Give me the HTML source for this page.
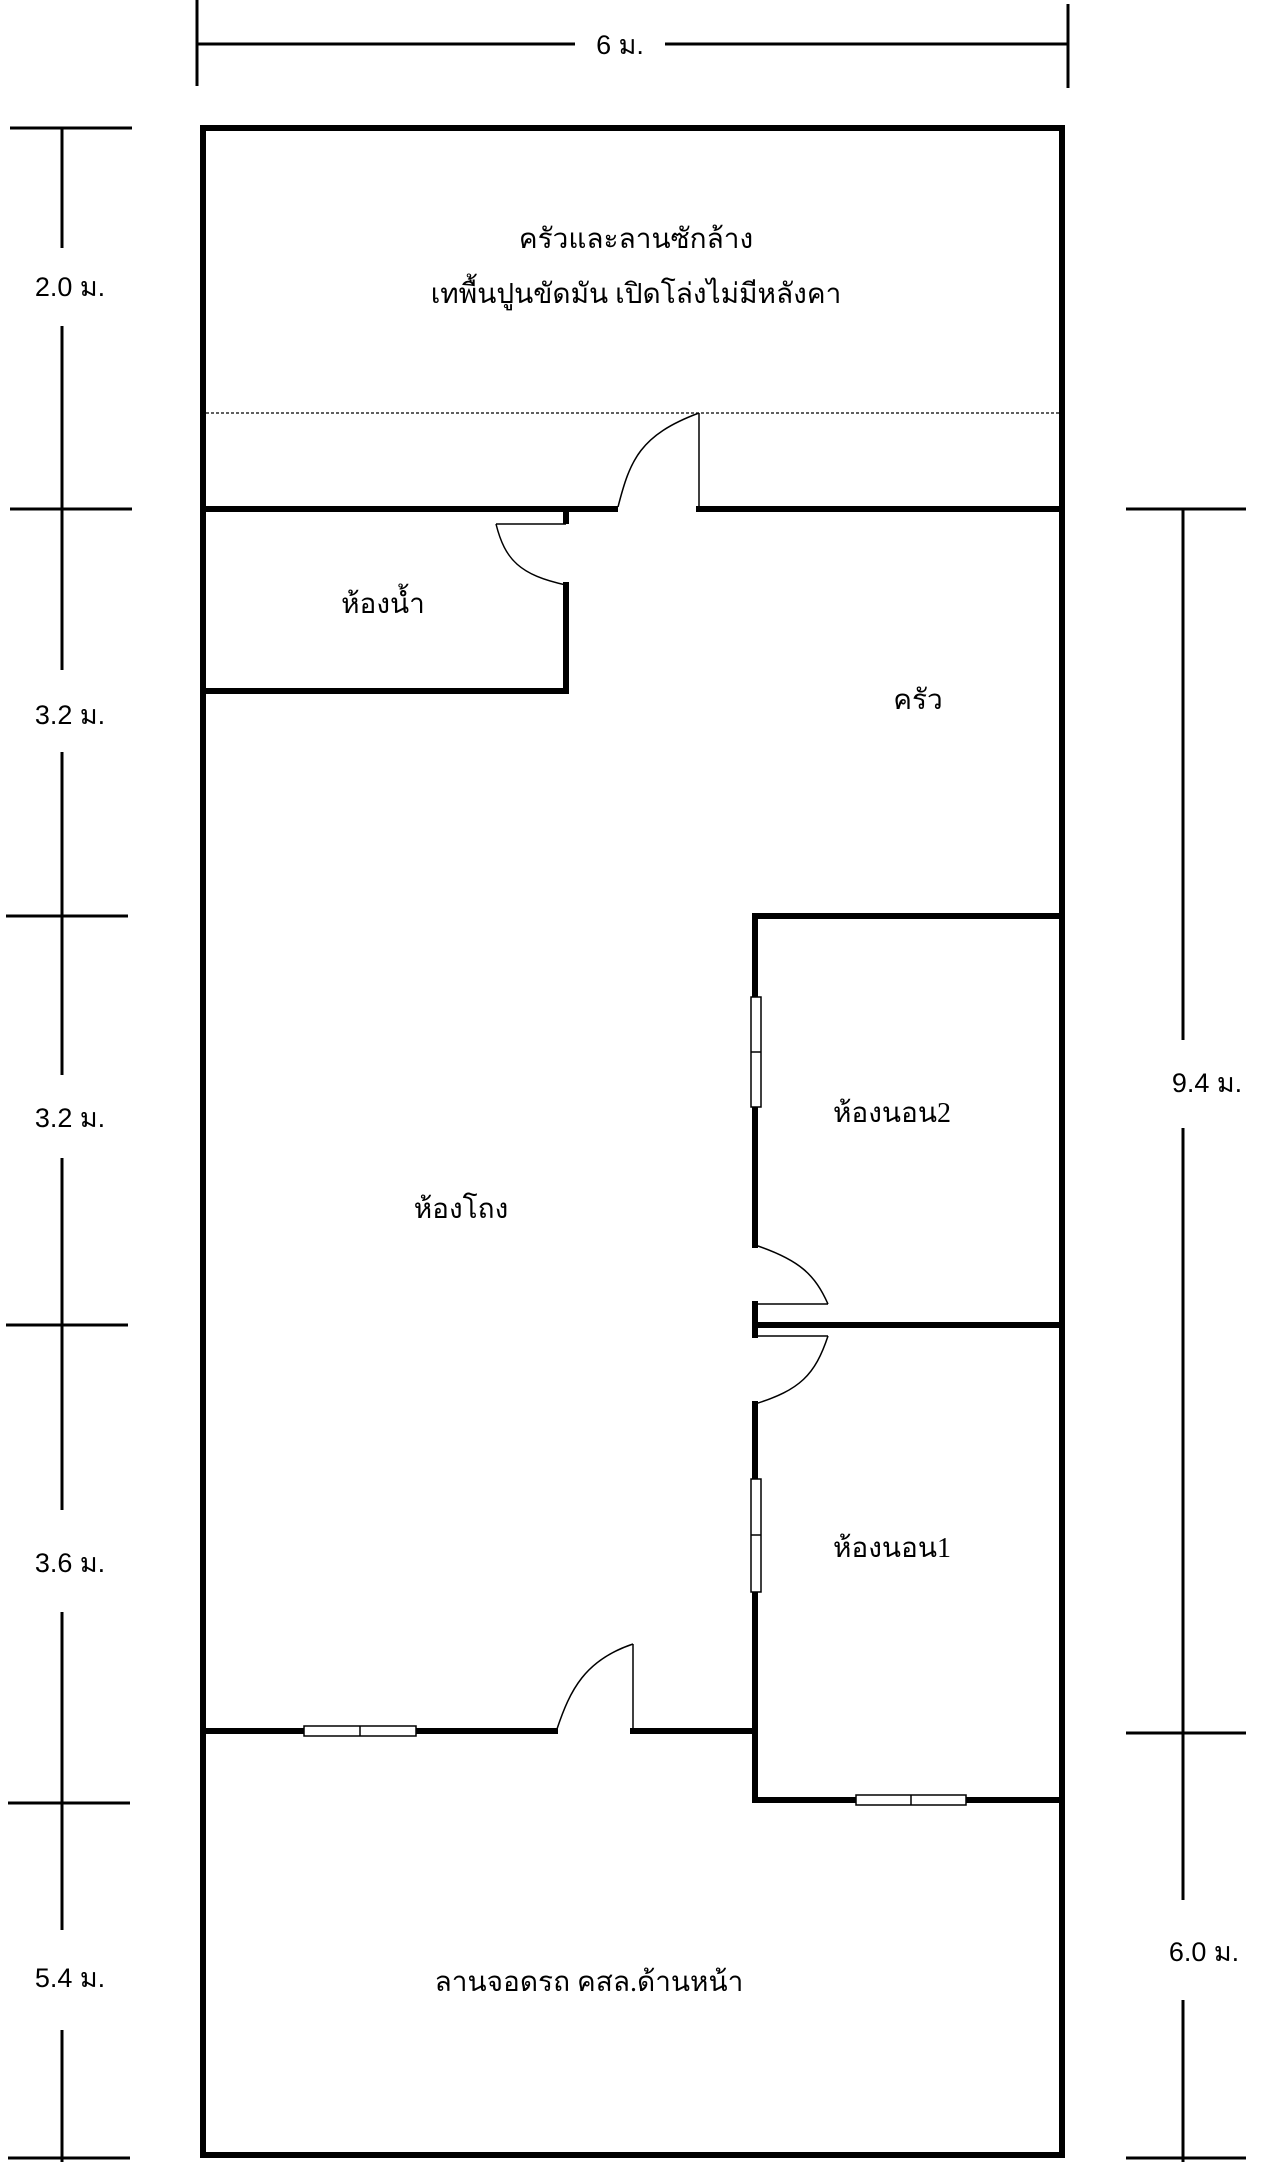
<!DOCTYPE html>
<html><head><meta charset="utf-8"><style>
html,body{margin:0;padding:0;background:#fff;}
svg{display:block}
.s{font-family:"Liberation Sans",sans-serif;font-size:27px;fill:#000}
.t{font-family:"Liberation Serif",serif;font-size:28px;fill:#000}
</style></head><body>
<svg width="1280" height="2162" viewBox="0 0 1280 2162" xmlns="http://www.w3.org/2000/svg">
<g stroke="#000" stroke-width="3" fill="none">
<!-- top dimension -->
<line x1="197" y1="0" x2="197" y2="86"/>
<line x1="1068" y1="4" x2="1068" y2="88"/>
<line x1="197" y1="44" x2="575" y2="44"/>
<line x1="665" y1="44" x2="1068" y2="44"/>
<!-- left dimension -->
<line x1="62" y1="128" x2="62" y2="248"/>
<line x1="62" y1="326" x2="62" y2="670"/>
<line x1="62" y1="752" x2="62" y2="1075"/>
<line x1="62" y1="1158" x2="62" y2="1510"/>
<line x1="62" y1="1612" x2="62" y2="1930"/>
<line x1="62" y1="2030" x2="62" y2="2162"/>
<line x1="10" y1="128" x2="132" y2="128"/>
<line x1="10" y1="509" x2="132" y2="509"/>
<line x1="6" y1="916" x2="128" y2="916"/>
<line x1="6" y1="1325" x2="128" y2="1325"/>
<line x1="8" y1="1803" x2="130" y2="1803"/>
<line x1="8" y1="2158" x2="130" y2="2158"/>
<!-- right dimension -->
<line x1="1183" y1="509" x2="1183" y2="1040"/>
<line x1="1183" y1="1128" x2="1183" y2="1900"/>
<line x1="1183" y1="2000" x2="1183" y2="2162"/>
<line x1="1126" y1="509" x2="1246" y2="509"/>
<line x1="1126" y1="1733" x2="1246" y2="1733"/>
<line x1="1126" y1="2158" x2="1246" y2="2158"/>
</g>
<g stroke="#000" stroke-width="6" fill="none" stroke-linecap="square">
<rect x="203" y="128" width="859" height="2027"/>
<line x1="203" y1="509" x2="615" y2="509"/>
<line x1="699" y1="509" x2="1062" y2="509"/>
<line x1="566" y1="509" x2="566" y2="521"/>
<line x1="566" y1="585" x2="566" y2="691"/>
<line x1="203" y1="691" x2="566" y2="691"/>
<line x1="755" y1="916" x2="1062" y2="916"/>
<line x1="755" y1="916" x2="755" y2="1245"/>
<line x1="755" y1="1304" x2="755" y2="1335"/>
<line x1="755" y1="1325" x2="1062" y2="1325"/>
<line x1="755" y1="1404" x2="755" y2="1800"/>
<line x1="755" y1="1800" x2="1062" y2="1800"/>
<line x1="203" y1="1731" x2="555" y2="1731"/>
<line x1="633" y1="1731" x2="755" y2="1731"/>
</g>
<line x1="206" y1="413" x2="1060" y2="413" stroke="#000" stroke-width="1.2" stroke-dasharray="3,2"/>
<g stroke="#000" stroke-width="1.5" fill="none">
<line x1="699" y1="413" x2="699" y2="507"/>
<path d="M618 507 C630 460 640 435 699 413"/>
<line x1="496" y1="524" x2="566" y2="524"/>
<path d="M496 524 C505 560 520 575 566 585"/>
<line x1="755" y1="1304" x2="828" y2="1304"/>
<path d="M755 1245 C800 1260 815 1275 828 1304"/>
<line x1="758" y1="1336" x2="828" y2="1336"/>
<path d="M755 1404 C800 1390 815 1375 828 1336"/>
<line x1="633" y1="1644" x2="633" y2="1729"/>
<path d="M557 1729 C570 1690 585 1660 633 1644"/>
</g>
<g stroke="#000" stroke-width="1.5" fill="#fff">
<rect x="751" y="997" width="10" height="110"/>
<line x1="751" y1="1052" x2="761" y2="1052"/>
<rect x="751" y="1479" width="10" height="113"/>
<line x1="751" y1="1535" x2="761" y2="1535"/>
<rect x="304" y="1726" width="112" height="10"/>
<line x1="360" y1="1726" x2="360" y2="1736"/>
<rect x="856" y="1795" width="110" height="10"/>
<line x1="911" y1="1795" x2="911" y2="1805"/>
</g>
<g class="s" text-anchor="middle">
<text x="620" y="54">6 ม.</text>
<text x="70" y="296">2.0 ม.</text>
<text x="70" y="724">3.2 ม.</text>
<text x="70" y="1127">3.2 ม.</text>
<text x="70" y="1572">3.6 ม.</text>
<text x="70" y="1987">5.4 ม.</text>
<text x="1207" y="1092">9.4 ม.</text>
<text x="1204" y="1961">6.0 ม.</text>
</g>
<g class="t" text-anchor="middle">
<text x="636" y="248">ครัวและลานซักล้าง</text>
<text x="636" y="303">เทพื้นปูนขัดมัน เปิดโล่งไม่มีหลังคา</text>
<text x="383" y="613">ห้องน้ำ</text>
<text x="918" y="709">ครัว</text>
<text x="892" y="1122">ห้องนอน2</text>
<text x="461" y="1218">ห้องโถง</text>
<text x="892" y="1557">ห้องนอน1</text>
<text x="589" y="1991">ลานจอดรถ คสล.ด้านหน้า</text>
</g>
</svg>
</body></html>
